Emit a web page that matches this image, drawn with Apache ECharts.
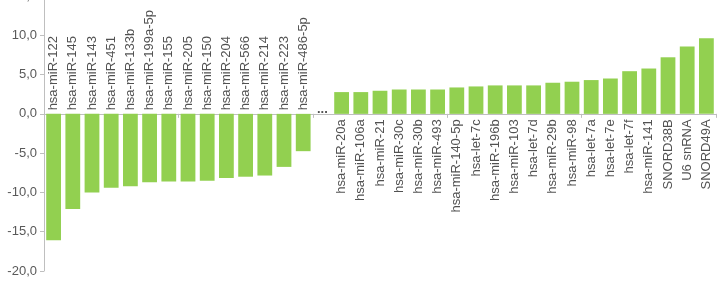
<!DOCTYPE html>
<html>
<head>
<meta charset="utf-8">
<script src="https://cdn.jsdelivr.net/npm/echarts@6/dist/echarts.min.js"></script>
<style>
  html,body{margin:0;padding:0;background:#fff;}
  #main{width:719px;height:283px;}
</style>
</head>
<body>
<div id="main"></div>
<script>
// 下调的 miRNA
var downNames=['hsa-miR-122','hsa-miR-145','hsa-miR-143','hsa-miR-451','hsa-miR-133b','hsa-miR-199a-5p','hsa-miR-155','hsa-miR-205','hsa-miR-150','hsa-miR-204','hsa-miR-566','hsa-miR-214','hsa-miR-223','hsa-miR-486-5p'];
var downValues=[-16.1,-12.1,-10.0,-9.4,-9.2,-8.7,-8.6,-8.6,-8.5,-8.15,-8.0,-7.85,-6.75,-4.75];
// 中间的省略号
var gapLabel='...';
// 上调的 miRNA
var upNames=['hsa-miR-20a','hsa-miR-106a','hsa-miR-21','hsa-miR-30c','hsa-miR-30b','hsa-miR-493','hsa-miR-140-5p','hsa-let-7c','hsa-miR-196b','hsa-miR-103','hsa-let-7d','hsa-miR-29b','hsa-miR-98','hsa-let-7a','hsa-let-7e','hsa-let-7f','hsa-miR-141','SNORD38B','U6 snRNA','SNORD49A'];
var upValues=[2.77,2.77,2.94,3.1,3.1,3.1,3.36,3.49,3.62,3.62,3.62,3.96,4.09,4.3,4.5,5.43,5.77,7.2,8.57,9.62];
// y 轴
var yMin=-20,yMax=15,yStep=5;

var gapIndex=downNames.length;
var categories=downNames.concat([gapLabel],upNames);
var values=downValues.concat(['-'],upValues);

var font='Liberation Sans';
// 类别名放在零线上：负值在线上方，正值在线下方
var nameLabels=categories.map(function(name,i){
	var lab;
	if(i<gapIndex){
		lab={position:'top',distance:3,rotate:90,align:'left',verticalAlign:'middle'};
	}else if(i>gapIndex){
		lab={position:'bottom',distance:5,rotate:90,align:'right',verticalAlign:'middle'};
	}else{
		lab={position:'top',distance:-3,rotate:0,align:'center',verticalAlign:'bottom',fontWeight:'bold'};
	}
	lab.show=true;
	lab.formatter=name;
	return {value:[i,0],label:lab};
});

var chart=echarts.init(document.getElementById('main'));
var option={
	animation:false,
	grid:{left:44,right:3,top:-4,bottom:12,containLabel:false,outerBoundsMode:'none'},
	xAxis:{
		type:'category',
		data:categories,
		axisLine:{onZero:true,lineStyle:{color:'#bfbfbf',width:1}},
		axisTick:{show:true,length:4,lineStyle:{color:'#bfbfbf'}},
		axisLabel:{show:false}
	},
	yAxis:{
		type:'value',
		min:yMin,max:yMax,interval:yStep,
		axisLine:{show:true,lineStyle:{color:'#bfbfbf'}},
		axisTick:{show:true,length:4,lineStyle:{color:'#bfbfbf'}},
		splitLine:{show:false},
		axisLabel:{
			margin:7,fontFamily:font,fontSize:13,color:'#595959',
			formatter:function(v){return v.toFixed(1).replace('.',',');}
		}
	},
	series:[{
		type:'bar',
		data:values,
		barCategoryGap:'23%',
		itemStyle:{color:'#92d050'}
	},{
		type:'scatter',
		data:nameLabels,
		symbol:'circle',
		symbolSize:1,
		itemStyle:{color:'rgba(0,0,0,0)'},
		label:{fontFamily:font,fontSize:13,color:'#262626'},
		silent:true,
		z:3
	}]
};
chart.setOption(option);
window.addEventListener('resize',function(){
	chart.resize();
});
</script>
</body>
</html>
